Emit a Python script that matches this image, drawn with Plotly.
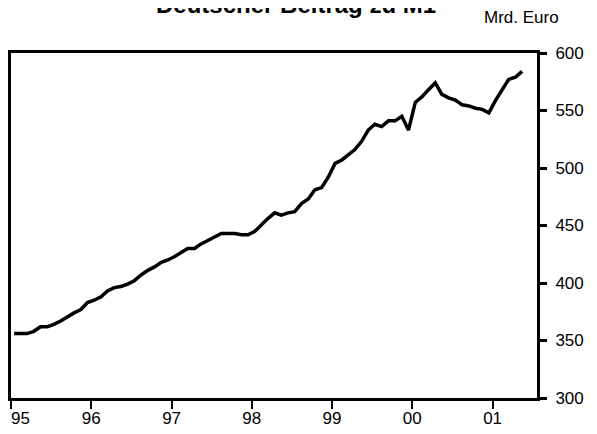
import pandas as pd
import plotly.graph_objects as go

# Deutscher Beitrag zu M1, Monatswerte Jan 1995 - Mai 2001 (Mrd. Euro)
start_month = "1995-01"
m1_values = [
    356, 356, 356, 358, 362, 362, 364, 367, 371, 374, 377, 383,   # 1995
    385, 388, 393, 396, 397, 399, 402, 407, 411, 414, 418, 420,   # 1996
    423, 427, 430, 430, 434, 437, 440, 443, 443, 443, 442, 442,   # 1997
    445, 451, 456, 461, 459, 461, 462, 469, 473, 481, 483, 492,   # 1998
    504, 507, 511, 516, 523, 533, 538, 536, 541, 541, 545, 533,   # 1999
    557, 562, 568, 574, 564, 561, 559, 555, 554, 552, 551, 548,   # 2000
    559, 569, 577, 579, 584,                                      # 2001
]
year_ticks = ["1995", "1996", "1997", "1998", "1999", "2000", "2001"]
year_labels = ["95", "96", "97", "98", "99", "00", "01"]
y_ticks = [300, 350, 400, 450, 500, 550, 600]

dates = pd.date_range(start_month, periods=len(m1_values), freq="MS") + pd.Timedelta(days=14)

fig = go.Figure()
fig.add_trace(go.Scatter(
    x=dates,
    y=m1_values,
    mode="lines",
    line=dict(color="black", width=3.5),
    hoverinfo="skip",
))

# the page body has an 8px margin, so the margins are shifted to compensate
fig.update_layout(
    width=597,
    height=434,
    margin=dict(l=3, r=68, t=45, b=44, autoexpand=False),
    paper_bgcolor="white",
    plot_bgcolor="white",
    showlegend=False,
    font=dict(family="Liberation Sans, Arial, sans-serif", size=17, color="black"),
    xaxis=dict(
        range=["1995-01-01", "2001-07-22"],
        tickvals=pd.to_datetime(year_ticks),
        # first label is drawn as an annotation so it stays inside the page
        ticktext=[""] + year_labels[1:],
        ticks="outside",
        ticklen=8,
        tickwidth=1.5,
        tickcolor="black",
        ticklabelstandoff=-5,
        showline=True,
        linewidth=3,
        linecolor="black",
        mirror=True,
        showgrid=False,
        zeroline=False,
        automargin=False,
    ),
    yaxis=dict(
        side="right",
        range=[300, 600],
        tickvals=y_ticks,
        ticks="outside",
        ticklen=7,
        tickwidth=3,
        tickcolor="black",
        ticklabelstandoff=5,
        showline=True,
        linewidth=3,
        linecolor="black",
        mirror=True,
        showgrid=False,
        zeroline=False,
        automargin=False,
    ),
    annotations=[
        dict(
            text="<b>Deutscher Beitrag zu M1</b>",
            xref="paper", yref="paper",
            x=0.5427, y=1.0, yshift=33,
            xanchor="center", yanchor="bottom",
            showarrow=False,
            font=dict(size=24),
        ),
        dict(
            text="Mrd. Euro",
            xref="paper", yref="paper",
            x=1.0, y=1.0, xshift=-16, yshift=36,
            xanchor="center", yanchor="middle",
            showarrow=False,
            font=dict(size=17),
        ),
        dict(
            text=year_labels[0],
            xref="paper", yref="paper",
            x=0.0, y=0.0, xshift=9, yshift=-20,
            xanchor="center", yanchor="middle",
            showarrow=False,
            font=dict(size=17),
        ),
    ],
)

fig.write_html("out.html")
